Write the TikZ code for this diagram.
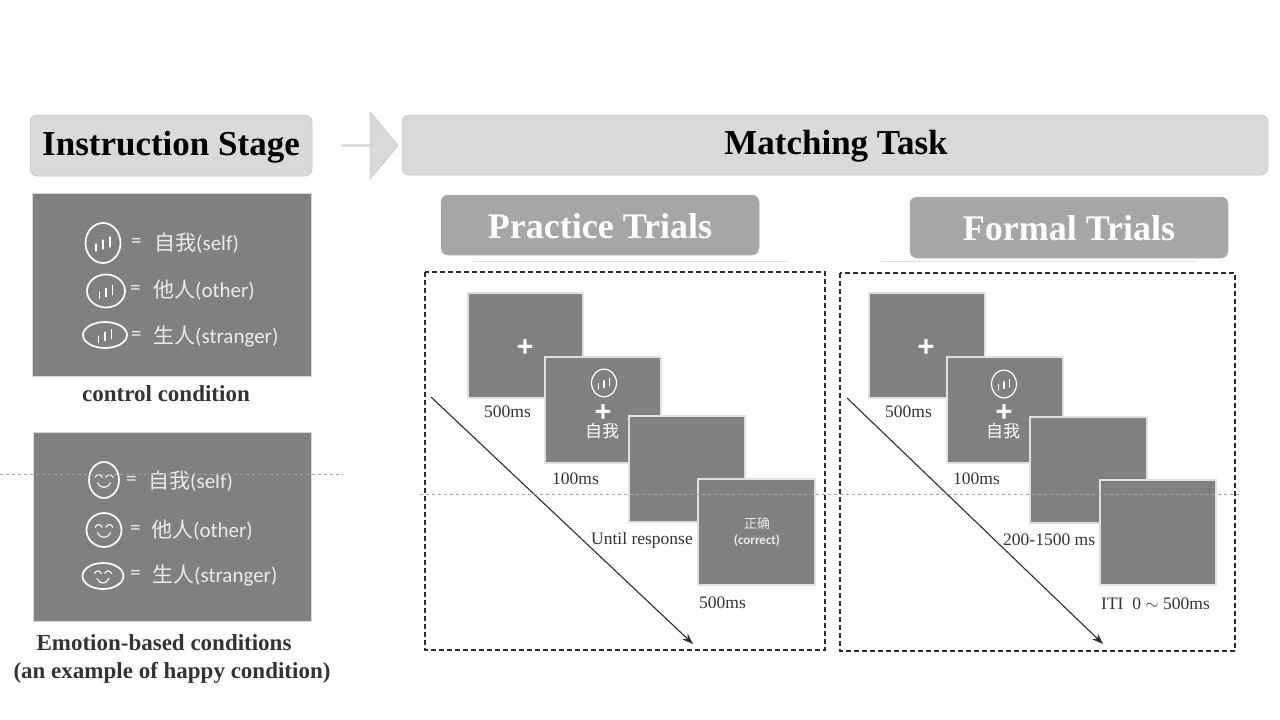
\documentclass[tikz,border=0pt]{standalone}
\usepackage{fontspec}
\setmainfont{Liberation Serif}
\setsansfont{Carlito}
\newfontfamily\cjk{Noto Sans CJK SC}
\newfontfamily\plusfont{Liberation Sans}
\usetikzlibrary{shapes.geometric, shapes.arrows, arrows.meta}

\definecolor{screengray}{RGB}{128,128,128}
\definecolor{stagegray}{RGB}{217,217,217}
\definecolor{trialgray}{RGB}{166,166,166}
\definecolor{guidegray}{RGB}{165,165,165}
\definecolor{inkgray}{RGB}{45,45,45}

\newcommand{\sz}[1]{\fontsize{#1}{#1}\selectfont}

% bars and smile sit inside a named oval
\newcommand{\facebars}[2]{
	\begin{scope}[shift={(#1.center)},scale=#2]
		\draw[facemark] (-7,8) -- (-7,1);
		\draw[facemark] (0,6) -- (0,-3);
		\draw[facemark] (7,4) -- (7,-6);
	\end{scope}
}
\newcommand{\facesmile}[2]{
	\begin{scope}[shift={(#1.center)},scale=#2]
		\draw[facemark] (-10,-3) .. controls (-8,-7) and (-4,-7) .. (-2,-3);
		\draw[facemark] (2,-3) .. controls (4,-7) and (8,-7) .. (10,-3);
		\draw[facemark] (-7,3) .. controls (-4,10) and (4,10) .. (7,3);
	\end{scope}
}

\begin{document}
\begin{tikzpicture}[x=1pt,y=-1pt]
	\tikzstyle{stage}=[rounded corners=7pt,fill=stagegray,draw=stagegray!90!black,line width=0.5pt]
	\tikzstyle{trial}=[rounded corners=7pt,fill=trialgray,draw=trialgray!90!white,line width=0.5pt]
	\tikzstyle{panel}=[fill=screengray,draw=white!85!black,line width=0.6pt]
	\tikzstyle{screen}=[fill=screengray,draw=white!88!black,line width=1.2pt]
	\tikzstyle{frame}=[draw=inkgray,dashed,line width=1.1pt,dash pattern=on 5pt off 3pt]
	\tikzstyle{guide}=[draw=guidegray,line width=0.5pt,dash pattern=on 3pt off 3pt]
	\tikzstyle{rule}=[draw=black!12,line width=0.7pt]
	\tikzstyle{timeflow}=[draw=inkgray,line width=1.1pt,-{Stealth[length=11pt,width=8pt]}]
	\tikzstyle{oval}=[ellipse,draw=white,line width=1.7pt,inner sep=0pt]
	\tikzstyle{facemark}=[draw=white,line width=1.1pt,line cap=round]
	\tikzstyle{key}=[text=white!92!black,font=\sffamily\sz{21},inner sep=0pt]
	\tikzstyle{caption}=[text=black!80,font=\bfseries\sz{23},inner sep=0pt]
	\tikzstyle{time}=[text=black!80,font=\sz{17.5},inner sep=0pt,anchor=west]
	\tikzstyle{fix}=[text=white,font=\plusfont\bfseries\sz{29},inner sep=0pt]

	\useasboundingbox (0,0) rectangle (1280,720);
	\fill[white] (0,0) rectangle (1280,720);

	% headers
	\node[single arrow,fill=stagegray,draw=stagegray!90!black,line width=0.5pt,inner sep=0pt,
		minimum width=67pt,minimum height=57pt,single arrow head extend=16pt,
		single arrow tip angle=100] (stagearrow) at (369.5,145.5) {};
	\draw[stage] (30,115) rectangle (312,176);
	\node[font=\bfseries\sz{35},inner sep=0pt] (instruction) at (171,147) {Instruction Stage};
	\draw[stage] (402,115) rectangle (1268,175);
	\node[font=\bfseries\sz{35},inner sep=0pt] (matching) at (836,146) {Matching Task};
	\draw[trial] (441,195) rectangle (759,255);
	\node[text=white,font=\bfseries\sz{36},inner sep=0pt] (practice) at (600,226) {Practice Trials};
	\draw[trial] (910,197) rectangle (1228,258);
	\node[text=white,font=\bfseries\sz{36},inner sep=0pt] (formal) at (1069,228) {Formal Trials};
	\draw[rule] (473,261) -- (788,261);
	\draw[rule] (881,261) -- (1195,261);

	% control condition
	\draw[panel] (32,193) rectangle (311,376);
	\node[oval,minimum width=35pt,minimum height=40pt] (barself) at (103,243) {};
	\facebars{barself}{1}
	\node[key,anchor=west] (eqa) at (131,243) {=};
	\node[key,anchor=west] (keya) at (154,243) {{\cjk 自我}(self)};
	\node[oval,minimum width=38pt,minimum height=33pt] (barother) at (106,291) {};
	\facebars{barother}{0.95}
	\node[key,anchor=west] (eqb) at (130,290) {=};
	\node[key,anchor=west] (keyb) at (153,290) {{\cjk 他人}(other)};
	\node[oval,minimum width=44pt,minimum height=26pt] (barstranger) at (105,335) {};
	\facebars{barstranger}{0.95}
	\node[key,anchor=west] (eqc) at (131,336) {=};
	\node[key,anchor=west] (keyc) at (153,336) {{\cjk 生人}(stranger)};
	\node[caption] (control) at (166,394) {control condition};

	% emotion conditions
	\draw[panel] (33,432) rectangle (311,621);
	\node[oval,minimum width=30pt,minimum height=36pt] (smileself) at (104,480) {};
	\facesmile{smileself}{0.9}
	\node[key,anchor=west] (eqd) at (126,481) {=};
	\node[key,anchor=west] (keyd) at (148,481) {{\cjk 自我}(self)};
	\node[oval,minimum width=35pt,minimum height=34pt] (smileother) at (104,530) {};
	\facesmile{smileother}{0.9}
	\node[key,anchor=west] (eqe) at (130,530) {=};
	\node[key,anchor=west] (keye) at (151,530) {{\cjk 他人}(other)};
	\node[oval,minimum width=41pt,minimum height=26pt] (smilestranger) at (103,576) {};
	\facesmile{smilestranger}{0.85}
	\node[key,anchor=west] (eqf) at (130,575) {=};
	\node[key,anchor=west] (keyf) at (152,575) {{\cjk 生人}(stranger)};
	\node[caption] (emotion) at (164,643) {Emotion-based conditions};
	\node[caption] (happy) at (172,673) {(an example of happy condition)};

	% practice trials
	\draw[frame] (425,272) rectangle (825,650);
	\draw[screen] (468,293) rectangle (583,398);
	\node[fix] (plusa) at (525,348) {+};
	\node[time] (timea) at (484,412) {500ms};
	\draw[screen] (545,357) rectangle (661,463);
	\node[oval,line width=1.2pt,minimum width=25pt,minimum height=28pt] (cuea) at (604,383) {};
	\facebars{cuea}{0.75}
	\node[fix] (plusb) at (603,413) {+};
	\node[text=white,font=\cjk\sz{17},inner sep=0pt] (wordacue) at (602,431) {自我};
	\node[time] (timeb) at (552,479) {100ms};
	\draw[screen] (629,416) rectangle (745,522);
	\node[time] (timec) at (591,540) {Until response};
	\draw[screen] (698,479) rectangle (815,585);
	\node[text=white!92!black,font=\cjk\sz{13},inner sep=0pt] (fbzh) at (757,524) {正确};
	\node[text=white!92!black,font=\sffamily\bfseries\sz{13},inner sep=0pt] (fben) at (757,541) {(correct)};
	\node[time] (timed) at (699,603) {500ms};
	\coordinate (flowastart) at (431,397);
	\coordinate (flowaend) at (693,644);
	\draw[timeflow] (flowastart) -- (flowaend);

	% formal trials
	\draw[frame] (840,273) rectangle (1235,651);
	\draw[screen] (869,293) rectangle (985,398);
	\node[fix] (plusc) at (926,348) {+};
	\node[time] (timee) at (885,412) {500ms};
	\draw[screen] (947,357) rectangle (1063,463);
	\node[oval,line width=1.2pt,minimum width=25pt,minimum height=28pt] (cueb) at (1004,384) {};
	\facebars{cueb}{0.75}
	\node[fix] (plusd) at (1004,413) {+};
	\node[text=white,font=\cjk\sz{17},inner sep=0pt] (wordbcue) at (1003,431) {自我};
	\node[time] (timef) at (953,479) {100ms};
	\draw[screen] (1030,417) rectangle (1147,523);
	\node[time] (timeg) at (1003,540) {200-1500 ms};
	\draw[screen] (1100,480) rectangle (1216,585);
	\node[time] (timeh) at (1101,604) {ITI\ \ 0 $\sim$ 500ms};
	\coordinate (flowbstart) at (847,398);
	\coordinate (flowbend) at (1103,644);
	\draw[timeflow] (flowbstart) -- (flowbend);

	% guides run across everything
	\draw[guide] (0,474.5) -- (343,474.5);
	\draw[guide] (420,494.5) -- (1240,494.5);
\end{tikzpicture}
\end{document}
